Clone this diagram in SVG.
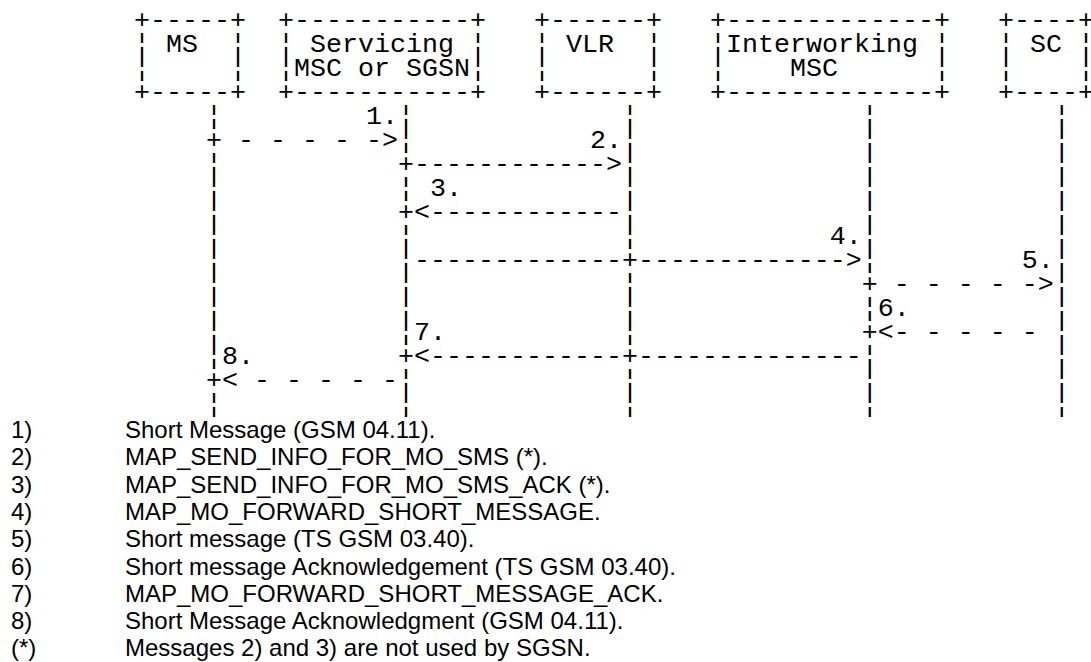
<svg xmlns="http://www.w3.org/2000/svg" width="1091" height="662" viewBox="0 0 1091 662">
<style>
.a{font-family:"Liberation Mono","Courier New",monospace;font-size:26.667px;fill:#000}
.l{font-family:"Liberation Sans",Arial,sans-serif;font-size:24px;fill:#000}
</style>
<rect width="1091" height="662" fill="#fff"/>
<g id="node-ms">
<text class="a"><tspan x="134" y="28">+-----+</tspan><tspan x="134" y="52">¦&#160;MS&#160;&#160;¦</tspan><tspan x="134" y="76">¦&#160;&#160;&#160;&#160;&#160;¦</tspan><tspan x="134" y="100">+-----+</tspan></text>
</g>
<g id="node-serving-msc">
<text class="a"><tspan x="278" y="28">+-----------+</tspan><tspan x="278" y="52">¦&#160;Servicing&#160;¦</tspan><tspan x="278" y="76">¦MSC&#160;or&#160;SGSN¦</tspan><tspan x="278" y="100">+-----------+</tspan></text>
</g>
<g id="node-vlr">
<text class="a"><tspan x="534" y="28">+------+</tspan><tspan x="534" y="52">¦&#160;VLR&#160;&#160;¦</tspan><tspan x="534" y="76">¦&#160;&#160;&#160;&#160;&#160;&#160;¦</tspan><tspan x="534" y="100">+------+</tspan></text>
</g>
<g id="node-iwmsc">
<text class="a"><tspan x="710" y="28">+-------------+</tspan><tspan x="710" y="52">¦Interworking&#160;¦</tspan><tspan x="710" y="76">¦&#160;&#160;&#160;&#160;MSC&#160;&#160;&#160;&#160;&#160;&#160;¦</tspan><tspan x="710" y="100">+-------------+</tspan></text>
</g>
<g id="node-sc">
<text class="a"><tspan x="998" y="28">+----+</tspan><tspan x="998" y="52">¦&#160;SC&#160;¦</tspan><tspan x="998" y="76">¦&#160;&#160;&#160;&#160;¦</tspan><tspan x="998" y="100">+----+</tspan></text>
</g>
<g id="connectors">
<text class="a"><tspan x="206" y="124">¦&#160;&#160;&#160;&#160;&#160;&#160;&#160;&#160;&#160;1.¦&#160;&#160;&#160;&#160;&#160;&#160;&#160;&#160;&#160;&#160;&#160;&#160;&#160;¦&#160;&#160;&#160;&#160;&#160;&#160;&#160;&#160;&#160;&#160;&#160;&#160;&#160;&#160;¦&#160;&#160;&#160;&#160;&#160;&#160;&#160;&#160;&#160;&#160;&#160;¦</tspan><tspan x="206" y="148">+&#160;-&#160;-&#160;-&#160;-&#160;-&gt;¦&#160;&#160;&#160;&#160;&#160;&#160;&#160;&#160;&#160;&#160;&#160;2.¦&#160;&#160;&#160;&#160;&#160;&#160;&#160;&#160;&#160;&#160;&#160;&#160;&#160;&#160;¦&#160;&#160;&#160;&#160;&#160;&#160;&#160;&#160;&#160;&#160;&#160;¦</tspan><tspan x="206" y="172">¦&#160;&#160;&#160;&#160;&#160;&#160;&#160;&#160;&#160;&#160;&#160;+------------&gt;¦&#160;&#160;&#160;&#160;&#160;&#160;&#160;&#160;&#160;&#160;&#160;&#160;&#160;&#160;¦&#160;&#160;&#160;&#160;&#160;&#160;&#160;&#160;&#160;&#160;&#160;¦</tspan><tspan x="206" y="196">¦&#160;&#160;&#160;&#160;&#160;&#160;&#160;&#160;&#160;&#160;&#160;¦&#160;3.&#160;&#160;&#160;&#160;&#160;&#160;&#160;&#160;&#160;&#160;¦&#160;&#160;&#160;&#160;&#160;&#160;&#160;&#160;&#160;&#160;&#160;&#160;&#160;&#160;¦&#160;&#160;&#160;&#160;&#160;&#160;&#160;&#160;&#160;&#160;&#160;¦</tspan><tspan x="206" y="220">¦&#160;&#160;&#160;&#160;&#160;&#160;&#160;&#160;&#160;&#160;&#160;+&lt;------------¦&#160;&#160;&#160;&#160;&#160;&#160;&#160;&#160;&#160;&#160;&#160;&#160;&#160;&#160;¦&#160;&#160;&#160;&#160;&#160;&#160;&#160;&#160;&#160;&#160;&#160;¦</tspan><tspan x="206" y="244">¦&#160;&#160;&#160;&#160;&#160;&#160;&#160;&#160;&#160;&#160;&#160;¦&#160;&#160;&#160;&#160;&#160;&#160;&#160;&#160;&#160;&#160;&#160;&#160;&#160;¦&#160;&#160;&#160;&#160;&#160;&#160;&#160;&#160;&#160;&#160;&#160;&#160;4.¦&#160;&#160;&#160;&#160;&#160;&#160;&#160;&#160;&#160;&#160;&#160;¦</tspan><tspan x="206" y="268">¦&#160;&#160;&#160;&#160;&#160;&#160;&#160;&#160;&#160;&#160;&#160;¦-------------+-------------&gt;¦&#160;&#160;&#160;&#160;&#160;&#160;&#160;&#160;&#160;5.¦</tspan><tspan x="206" y="292">¦&#160;&#160;&#160;&#160;&#160;&#160;&#160;&#160;&#160;&#160;&#160;¦&#160;&#160;&#160;&#160;&#160;&#160;&#160;&#160;&#160;&#160;&#160;&#160;&#160;¦&#160;&#160;&#160;&#160;&#160;&#160;&#160;&#160;&#160;&#160;&#160;&#160;&#160;&#160;+&#160;-&#160;-&#160;-&#160;-&#160;-&gt;¦</tspan><tspan x="206" y="316">¦&#160;&#160;&#160;&#160;&#160;&#160;&#160;&#160;&#160;&#160;&#160;¦&#160;&#160;&#160;&#160;&#160;&#160;&#160;&#160;&#160;&#160;&#160;&#160;&#160;¦&#160;&#160;&#160;&#160;&#160;&#160;&#160;&#160;&#160;&#160;&#160;&#160;&#160;&#160;¦6.&#160;&#160;&#160;&#160;&#160;&#160;&#160;&#160;&#160;¦</tspan><tspan x="206" y="340">¦&#160;&#160;&#160;&#160;&#160;&#160;&#160;&#160;&#160;&#160;&#160;¦7.&#160;&#160;&#160;&#160;&#160;&#160;&#160;&#160;&#160;&#160;&#160;¦&#160;&#160;&#160;&#160;&#160;&#160;&#160;&#160;&#160;&#160;&#160;&#160;&#160;&#160;+&lt;-&#160;-&#160;-&#160;-&#160;-&#160;¦</tspan><tspan x="206" y="364">¦8.&#160;&#160;&#160;&#160;&#160;&#160;&#160;&#160;&#160;+&lt;------------+--------------¦&#160;&#160;&#160;&#160;&#160;&#160;&#160;&#160;&#160;&#160;&#160;¦</tspan><tspan x="206" y="388">+&lt;&#160;-&#160;-&#160;-&#160;-&#160;-¦&#160;&#160;&#160;&#160;&#160;&#160;&#160;&#160;&#160;&#160;&#160;&#160;&#160;¦&#160;&#160;&#160;&#160;&#160;&#160;&#160;&#160;&#160;&#160;&#160;&#160;&#160;&#160;¦&#160;&#160;&#160;&#160;&#160;&#160;&#160;&#160;&#160;&#160;&#160;¦</tspan><tspan x="206" y="412">¦&#160;&#160;&#160;&#160;&#160;&#160;&#160;&#160;&#160;&#160;&#160;¦&#160;&#160;&#160;&#160;&#160;&#160;&#160;&#160;&#160;&#160;&#160;&#160;&#160;¦&#160;&#160;&#160;&#160;&#160;&#160;&#160;&#160;&#160;&#160;&#160;&#160;&#160;&#160;¦&#160;&#160;&#160;&#160;&#160;&#160;&#160;&#160;&#160;&#160;&#160;¦</tspan></text>
</g>
<g id="legend">
<text class="l"><tspan x="11" y="438">1)</tspan><tspan x="11" y="465.3">2)</tspan><tspan x="11" y="492.6">3)</tspan><tspan x="11" y="519.9">4)</tspan><tspan x="11" y="547.2">5)</tspan><tspan x="11" y="574.5">6)</tspan><tspan x="11" y="601.8">7)</tspan><tspan x="11" y="629.1">8)</tspan><tspan x="11" y="656.4">(*)</tspan></text>
<text class="l"><tspan x="125" y="438">Short Message (GSM 04.11).</tspan><tspan x="125" y="465.3">MAP_SEND_INFO_FOR_MO_SMS (*).</tspan><tspan x="125" y="492.6">MAP_SEND_INFO_FOR_MO_SMS_ACK (*).</tspan><tspan x="125" y="519.9">MAP_MO_FORWARD_SHORT_MESSAGE.</tspan><tspan x="125" y="547.2">Short message (TS GSM 03.40).</tspan><tspan x="125" y="574.5">Short message Acknowledgement (TS GSM 03.40).</tspan><tspan x="125" y="601.8">MAP_MO_FORWARD_SHORT_MESSAGE_ACK.</tspan><tspan x="125" y="629.1">Short Message Acknowledgment (GSM 04.11).</tspan><tspan x="125" y="656.4">Messages 2) and 3) are not used by SGSN.</tspan></text>
</g>
</svg>
